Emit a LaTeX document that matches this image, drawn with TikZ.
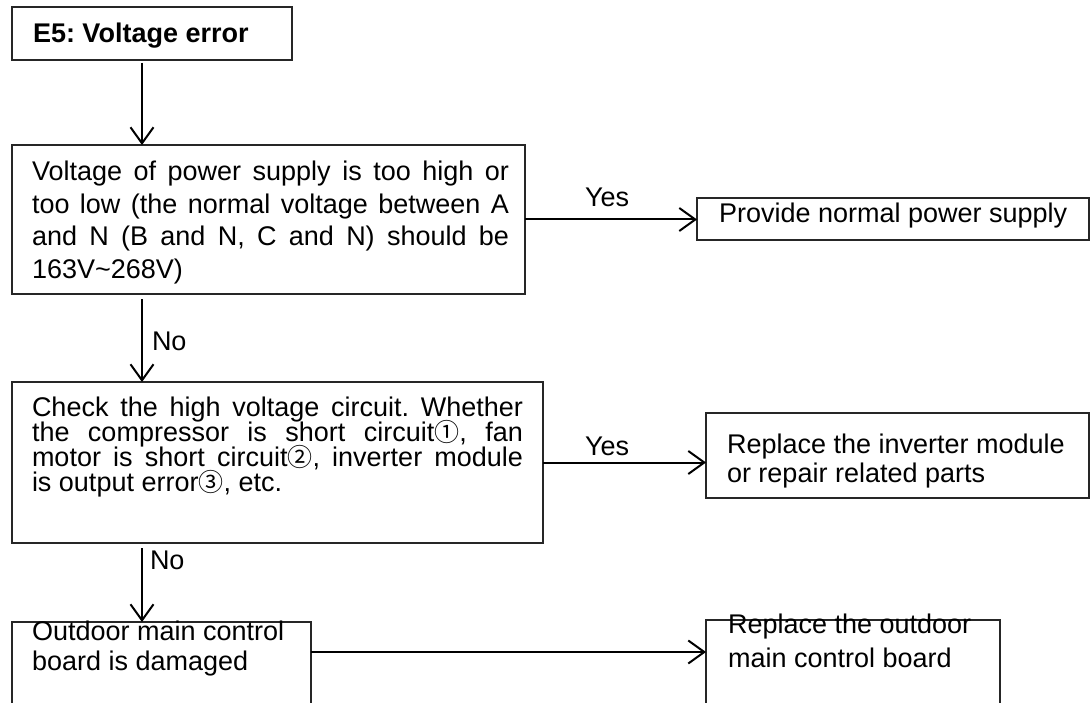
\documentclass[tikz,border=0pt]{standalone}
\usepackage{fontspec}
\setmainfont{Liberation Sans}
\newfontfamily\cjkfont{Noto Sans CJK SC}
\usetikzlibrary{arrows.meta}
\newcommand{\cnum}[1]{{\cjkfont\fontsize{25pt}{25pt}\selectfont #1}}
\newcommand{\jline}[2]{\makebox[#1][s]{#2}}
\frenchspacing
\begin{document}
\begin{tikzpicture}[x=1pt,y=-1pt,
  box/.style={draw=black!85, line width=1.3pt, inner sep=0pt, outer sep=0pt, anchor=north west},
  txt/.style={anchor=base west, inner sep=0pt, outer sep=0pt, font=\fontsize{27pt}{32pt}\selectfont},
  arr/.style={line width=2pt, -{Straight Barb[length=16pt,width=23pt,line width=2pt]}}]
\fill[white] (0,0) rectangle (1091,703);
\useasboundingbox (0,0) rectangle (1091,703);
\clip (0,0) rectangle (1091,703);
\coordinate (col) at (142,0);
\coordinate (r3) at (0,652);
% boxes
\node[box, minimum width=280pt, minimum height=53pt] (e5) at (12,7) {};
\node[box, minimum width=513pt, minimum height=149pt] (b2) at (12,145) {};
\node[box, minimum width=392pt, minimum height=42pt] (pw) at (697,198) {};
\node[box, minimum width=531pt, minimum height=161pt] (b3) at (12,382) {};
\node[box, minimum width=383pt, minimum height=85pt] (ri) at (706,413) {};
\node[box, minimum width=299pt, minimum height=110pt] (b4) at (12,622) {};
\node[box, minimum width=294pt, minimum height=110pt] (b5) at (706,620) {};
% texts
\node[txt, font=\fontsize{27pt}{32pt}\selectfont\bfseries] (e5t) at (33,43) {E5: Voltage error};
\node[txt] (b2a) at (32,181) {\jline{477pt}{Voltage of power supply is too high or}};
\node[txt] (b2b) at (32,213.5) {\jline{477pt}{too low (the normal voltage between A}};
\node[txt] (b2c) at (32,246) {\jline{477pt}{and N (B and N, C and N) should be}};
\node[txt] (b2d) at (32,278.5) {163V\textasciitilde268V)};
\node[txt] (pwt) at (719,223) {Provide normal power supply};
\node[txt] (b3a) at (32,416.7) {\jline{491pt}{Check the high voltage circuit. Whether}};
\node[txt] (b3b) at (32,441.7) {\jline{491pt}{the compressor is short circuit\cnum{①}, fan}};
\node[txt] (b3c) at (32,466.7) {\jline{491pt}{motor is short circuit\cnum{②}, inverter module}};
\node[txt] (b3d) at (32,491.7) {is output error\cnum{③}, etc.};
\node[txt] (ria) at (727,453) {Replace the inverter module};
\node[txt] (rib) at (727,482) {or repair related parts};
\node[txt] (b4a) at (32,640) {Outdoor main control};
\node[txt] (b4b) at (32,670) {board is damaged};
\node[txt] (b5a) at (728,633) {Replace the outdoor};
\node[txt] (b5b) at (728,667) {main control board};
% labels
\node[txt] (y1) at (585,207) {Yes};
\node[txt] (y2) at (585,455) {Yes};
\node[txt] (n1) at (152,350) {No};
\node[txt] (n2) at (150,569) {No};
% connectors
\draw[arr, shorten <=3pt] (e5.south -| col) -- (b2.north -| col);
\draw[arr] (b2.east) -- (b2.east -| pw.west);
\draw[arr, shorten <=5pt] (b2.south -| col) -- (b3.north -| col);
\draw[arr] (b3.east) -- (b3.east -| ri.west);
\draw[arr, shorten <=5pt] (b3.south -| col) -- (b4.north -| col);
\draw[arr] (b4.east |- r3) -- (b5.west |- r3);
\end{tikzpicture}
\end{document}
